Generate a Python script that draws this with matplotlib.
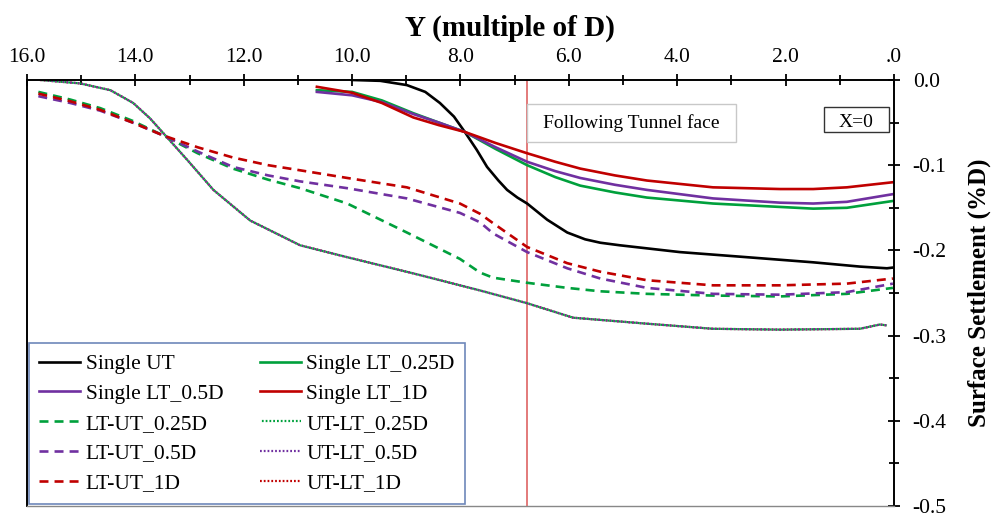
import numpy as np
import matplotlib.pyplot as plt
from matplotlib.ticker import MultipleLocator, FuncFormatter
from matplotlib.patches import Rectangle

plt.rcParams['font.family'] = ['Liberation Serif', 'DejaVu Serif']

# Distance from tunnel face (multiple of D) and surface settlement (%D)
y_ut = [10.0, 9.48, 8.99, 8.65, 8.38, 8.12, 7.92, 7.70, 7.51, 7.30, 7.14, 6.95, 6.77, 6.40, 6.03,
        5.70, 5.42, 5.06, 3.95, 2.71, 1.49, 0.63, 0.13, 0.0]
s_ut = [0.0, -0.001, -0.006, -0.014, -0.027, -0.043, -0.061, -0.082, -0.102, -0.118, -0.129, -0.138,
        -0.145, -0.164, -0.179, -0.187, -0.191, -0.194, -0.202, -0.208, -0.214, -0.219, -0.221, -0.220]

y_lt = [10.65, 10.0, 9.45, 8.87, 8.40, 7.92, 7.35, 6.77, 6.25, 5.79, 5.15, 4.56, 3.34, 2.10, 1.49,
        0.87, 0.02]
s_lt_1d = [-0.008, -0.015, -0.027, -0.044, -0.053, -0.061, -0.074, -0.086, -0.096, -0.104, -0.112,
           -0.118, -0.126, -0.128, -0.128, -0.126, -0.120]
s_lt_05d = [-0.014, -0.018, -0.026, -0.040, -0.050, -0.061, -0.079, -0.096, -0.107, -0.115, -0.123,
            -0.129, -0.139, -0.144, -0.145, -0.143, -0.134]
s_lt_025d = [-0.012, -0.014, -0.024, -0.039, -0.050, -0.061, -0.081, -0.100, -0.114, -0.124, -0.132,
             -0.138, -0.145, -0.149, -0.151, -0.150, -0.142]

y_ltut = [15.79, 15.2, 14.65, 14.05, 13.49, 12.85, 12.20, 11.55, 10.96, 10.09, 8.99, 8.01, 7.64,
          7.40, 6.77, 6.03, 5.42, 4.56, 3.34, 2.10, 0.87, 0.02]
s_ltut_1d = [-0.016, -0.025, -0.035, -0.050, -0.065, -0.079, -0.091, -0.100, -0.106, -0.115, -0.126,
             -0.145, -0.157, -0.168, -0.196, -0.215, -0.225, -0.235, -0.241, -0.241, -0.239, -0.233]
s_ltut_05d = [-0.019, -0.027, -0.036, -0.050, -0.065, -0.084, -0.102, -0.112, -0.119, -0.127, -0.139,
              -0.156, -0.167, -0.180, -0.202, -0.221, -0.233, -0.244, -0.251, -0.252, -0.249, -0.239]
s_ltut_025d = [-0.014, -0.023, -0.033, -0.048, -0.065, -0.086, -0.104, -0.117, -0.127, -0.145, -0.179,
               -0.210, -0.226, -0.232, -0.238, -0.244, -0.248, -0.251, -0.253, -0.254, -0.251, -0.244]

y_utlt = [15.76, 15.02, 14.46, 14.04, 13.73, 13.49, 13.04, 12.56, 11.88, 10.96, 10.09, 8.87, 7.64,
          6.77, 5.92, 4.56, 3.34, 2.10, 0.63, 0.26, 0.13]
s_utlt_1d = [0.0, -0.004, -0.012, -0.027, -0.045, -0.062, -0.094, -0.129, -0.165, -0.194, -0.208,
             -0.227, -0.247, -0.262, -0.279, -0.286, -0.292, -0.293, -0.292, -0.287, -0.288]
s_utlt_05d = list(s_utlt_1d)
s_utlt_025d = list(s_utlt_1d)

face_y = 6.77

black = '#000000'
green = '#00A03C'
purple = '#7030A0'
red = '#C00000'

fig = plt.figure(figsize=(9.92, 5.13), dpi=100)
ax = fig.add_axes([0.0272, 0.0136, 0.8740, 0.8305])

lw = 1.9
dash = (0, (3.4, 2.3))
dot = (0, (0.8, 0.9))

ax.plot(y_ut, s_ut, color=black, lw=lw, label='Single UT')
ax.plot(y_lt, s_lt_025d, color=green, lw=lw, label='Single LT_0.25D')
ax.plot(y_lt, s_lt_05d, color=purple, lw=lw, label='Single LT_0.5D')
ax.plot(y_lt, s_lt_1d, color=red, lw=lw, label='Single LT_1D')
ax.plot(y_ltut, s_ltut_025d, color=green, lw=lw, ls=dash, label='LT-UT_0.25D')
ax.plot(y_utlt, s_utlt_1d, color=red, lw=1.6, ls=dot, label='UT-LT_1D')
ax.plot(y_utlt, s_utlt_05d, color=purple, lw=1.6, ls=dot, label='UT-LT_0.5D')
ax.plot(y_utlt, s_utlt_025d, color=green, lw=1.6, ls=(0.85, (0.8, 0.9)), label='UT-LT_0.25D')
ax.plot(y_ltut, s_ltut_05d, color=purple, lw=lw, ls=dash, label='LT-UT_0.5D')
ax.plot(y_ltut, s_ltut_1d, color=red, lw=lw, ls=dash, label='LT-UT_1D')

# Tunnel face position
ax.axvline(face_y, color='#E07070', lw=1.3, zorder=1)

ax.set_xlim(16, 0)
ax.set_ylim(-0.5, 0)

ax.xaxis.tick_top()
ax.xaxis.set_label_position('top')
ax.yaxis.tick_right()
ax.yaxis.set_label_position('right')

ax.xaxis.set_major_locator(MultipleLocator(2))
ax.xaxis.set_minor_locator(MultipleLocator(1))
ax.yaxis.set_major_locator(MultipleLocator(0.1))
ax.yaxis.set_minor_locator(MultipleLocator(0.05))
ax.xaxis.set_major_formatter(FuncFormatter(lambda v, p: '.0' if abs(v) < 1e-9 else f'{v:.1f}'))
ax.yaxis.set_major_formatter(FuncFormatter(lambda v, p: f'{v:.1f}'))

ax.tick_params(which='major', direction='inout', length=9, width=1.3, labelsize=15.5)
ax.tick_params(axis='x', which='major', pad=5)
ax.tick_params(axis='y', which='major', pad=9)
ax.tick_params(which='minor', direction='inout', length=7, width=1.3)

for side in ['top', 'right', 'left']:
    ax.spines[side].set_linewidth(1.4)
ax.spines['bottom'].set_color('#888888')
ax.spines['bottom'].set_linewidth(1.0)

ax.set_xlabel('Y (multiple of D)', fontsize=21, fontweight='bold', labelpad=9)
ax.xaxis.label.set_x(0.557)
ax.set_ylabel('Surface Settlement (%D)', fontsize=18, fontweight='bold', labelpad=15)

# Annotation boxes
ax.add_patch(Rectangle((0.5767, 0.8545), 0.241, 0.0892, transform=ax.transAxes,
                       facecolor='white', edgecolor='#C8C8C8', lw=1.0, zorder=4))
ax.text(0.697, 0.899, 'Following Tunnel face', transform=ax.transAxes, fontsize=14,
        ha='center', va='center', zorder=5)
x0_box = Rectangle((0.919, 0.878), 0.075, 0.0587, transform=ax.transAxes,
                   facecolor='white', edgecolor='#333333', lw=1.0, zorder=4)
ax.add_patch(x0_box)
x0_txt = ax.text(0.956, 0.900, 'X=0', transform=ax.transAxes, fontsize=14, ha='center',
                 va='center', zorder=5)
x0_txt.set_clip_path(x0_box)

order = ['Single UT', 'Single LT_0.5D', 'LT-UT_0.25D', 'LT-UT_0.5D', 'LT-UT_1D',
         'Single LT_0.25D', 'Single LT_1D', 'UT-LT_0.25D', 'UT-LT_0.5D', 'UT-LT_1D']
handles, labels = ax.get_legend_handles_labels()
lookup = dict(zip(labels, handles))
leg = ax.legend([lookup[k] for k in order], order, ncol=2, loc='lower left',
                bbox_to_anchor=(0.002, 0.005), fontsize=15.5, frameon=True, fancybox=False,
                edgecolor='#4A6AA8', handlelength=1.9, handletextpad=0.25, columnspacing=1.7,
                labelspacing=0.45, borderpad=0.5, borderaxespad=0)
leg.get_frame().set_linewidth(1.2)
leg.set_zorder(5)

fig.savefig('out.png', dpi=100)
